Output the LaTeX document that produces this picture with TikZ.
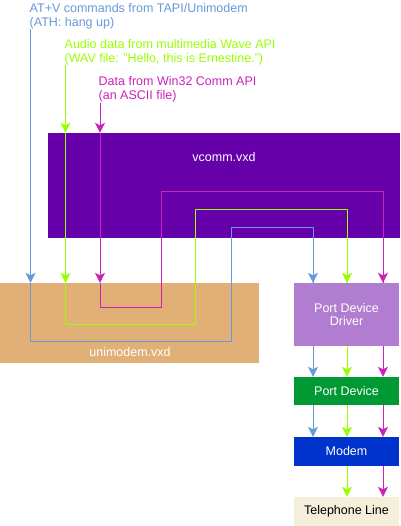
\documentclass[tikz,border=0pt]{standalone}
\usepackage{fontspec}
\setmainfont{Liberation Sans}
\usetikzlibrary{arrows.meta,calc}
\definecolor{cblue}{HTML}{6699DD}
\definecolor{cgreen}{HTML}{99FF00}
\definecolor{cmag}{HTML}{CC22BB}
\definecolor{cpurple}{HTML}{6600AA}
\definecolor{ctan}{HTML}{E0B077}
\definecolor{clav}{HTML}{B07DD0}
\definecolor{cpdgreen}{HTML}{009933}
\definecolor{cmodem}{HTML}{0033CC}
\definecolor{ctel}{HTML}{F5EEDB}
\begin{document}
\begin{tikzpicture}[x=1pt,y=-1pt,
  box/.style={rectangle,inner sep=0pt,draw=none,text=white,align=center,
    font=\fontsize{12.5}{13}\selectfont},
  boxtext/.style={inner sep=0pt,text=white,font=\fontsize{12.5}{13}\selectfont},
  lbl/.style={inner sep=0pt,align=left,anchor=north west,font=\fontsize{12.5}{14}\selectfont},
  wire/.style={line width=1pt},
  arr/.style={wire,-{Stealth[length=10pt,width=10pt,inset=2.5pt]}}
]
\useasboundingbox (0,0) rectangle (400,526);
% boxes
\node[box,fill=cpurple,minimum width=352pt,minimum height=105pt] (vcomm) at (224,185.5) {};
\node[boxtext] (vcommtxt) at (224,157) {vcomm.vxd};
\node[box,fill=ctan,minimum width=259pt,minimum height=80pt] (unimodem) at (129.5,323) {};
\node[boxtext] (unitxt) at (130,352) {unimodem.vxd};
\node[box,fill=clav,minimum width=105pt,minimum height=63pt] (pdd) at (346.5,314.5) {Port Device\\Driver};
\node[box,fill=cpdgreen,minimum width=105pt,minimum height=28pt] (pd) at (346.5,391) {Port Device};
\node[box,fill=cmodem,minimum width=105pt,minimum height=29pt] (modem) at (346.5,451.5) {Modem};
\node[box,fill=ctel,text=black,minimum width=105pt,minimum height=29pt] (tel) at (346.5,511.5) {Telephone Line};
% labels
\node[lbl,text=cblue] (lblA) at (29.5,3) {AT+V commands from TAPI/Unimodem\\(ATH: hang up)};
\node[lbl,text=cgreen] (lblB) at (64.5,39) {Audio data from multimedia Wave API\\(WAV file: "Hello, this is Ernestine.")};
\node[lbl,text=cmag] (lblC) at (98.5,76) {Data from Win32 Comm API\\(an ASCII file)};
% start points
\coordinate (b0) at (30.5,29);
\coordinate (g0) at (65.5,65);
\coordinate (m0) at (100,103);
% blue path
\draw[arr,cblue] (b0) -- (b0 |- unimodem.north);
\draw[wire,cblue] (b0 |- unimodem.north) -- (30.5,341) -| (231,227) -| ($(pdd.north)+(-33.5,0)$);
\draw[arr,cblue] (313,235) -- ($(pdd.north)+(-33.5,0)$);
% green path
\draw[arr,cgreen] (g0) -- (g0 |- vcomm.north);
\draw[arr,cgreen] (g0 |- vcomm.north) -- (g0 |- unimodem.north);
\draw[wire,cgreen] (g0 |- unimodem.north) -- (65.5,324) -| (195,210) -| ($(pdd.north)+(0.5,0)$);
\draw[arr,cgreen] (347,235) -- ($(pdd.north)+(0.5,0)$);
% magenta path
\draw[arr,cmag] (m0) -- (m0 |- vcomm.north);
\draw[arr,cmag] (m0 |- vcomm.north) -- (m0 |- unimodem.north);
\draw[wire,cmag] (m0 |- unimodem.north) -- (100,307) -| (161,192) -| ($(pdd.north)+(36.5,0)$);
\draw[arr,cmag] (383,235) -- ($(pdd.north)+(36.5,0)$);
% lower connectors
\foreach \dx/\c in {-33.5/cblue,0.5/cgreen,36.5/cmag}{
  \draw[arr,\c] ($(pdd.south)+(\dx,0)$) -- ($(pd.north)+(\dx,0)$);
  \draw[arr,\c] ($(pd.south)+(\dx,0)$) -- ($(modem.north)+(\dx,0)$);
}
\foreach \dx/\c in {0.5/cgreen,36.5/cmag}{
  \draw[arr,\c] ($(modem.south)+(\dx,0)$) -- ($(tel.north)+(\dx,0)$);
}
\end{tikzpicture}
\end{document}
